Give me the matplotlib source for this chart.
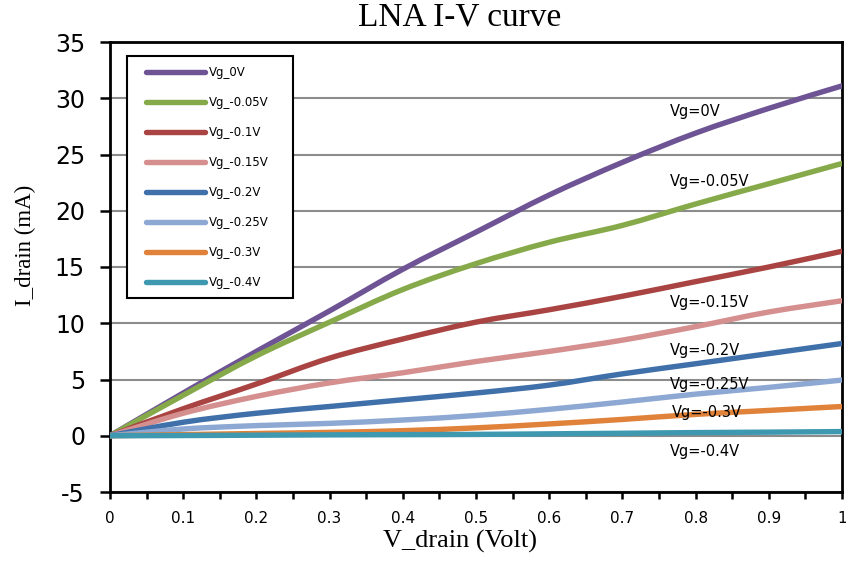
import matplotlib
matplotlib.use("Agg")
import matplotlib.pyplot as plt
from matplotlib.ticker import MultipleLocator
from matplotlib.path import Path
from matplotlib.patches import PathPatch, Rectangle
from matplotlib.lines import Line2D

plt.rcParams["axes.unicode_minus"] = False

# Drain voltage sweep (V)
v_drain = [0.0, 0.1, 0.2, 0.3, 0.4, 0.5, 0.6, 0.7, 0.8, 0.9, 1.0]

# Drain current (mA) for each gate bias
i_vg_0 = [0.0, 3.8, 7.5, 11.1, 14.8, 18.1, 21.4, 24.3, 26.9, 29.1, 31.1]
i_vg_m005 = [0.0, 3.6, 7.1, 10.1, 13.0, 15.3, 17.2, 18.7, 20.6, 22.4, 24.2]
i_vg_m010 = [0.0, 2.4, 4.6, 6.9, 8.6, 10.1, 11.2, 12.4, 13.7, 15.0, 16.4]
i_vg_m015 = [0.0, 2.0, 3.5, 4.7, 5.6, 6.6, 7.5, 8.5, 9.7, 11.0, 12.0]
i_vg_m020 = [0.0, 1.2, 2.0, 2.6, 3.2, 3.8, 4.5, 5.5, 6.4, 7.3, 8.2]
i_vg_m025 = [0.0, 0.6, 0.9, 1.1, 1.4, 1.8, 2.35, 3.0, 3.7, 4.3, 4.95]
i_vg_m030 = [0.0, 0.1, 0.2, 0.3, 0.45, 0.7, 1.05, 1.45, 1.9, 2.25, 2.6]
i_vg_m040 = [0.0, 0.02, 0.05, 0.08, 0.1, 0.12, 0.17, 0.22, 0.28, 0.32, 0.37]

series_labels = ["Vg_0V", "Vg_-0.05V", "Vg_-0.1V", "Vg_-0.15V",
                 "Vg_-0.2V", "Vg_-0.25V", "Vg_-0.3V", "Vg_-0.4V"]
series_values = [i_vg_0, i_vg_m005, i_vg_m010, i_vg_m015,
                 i_vg_m020, i_vg_m025, i_vg_m030, i_vg_m040]
series_colors = ["#6E5494", "#86A94A", "#A94442", "#D48F8E",
                 "#3F70AA", "#8DA8D2", "#E0823A", "#3E98B0"]

# In-plot curve labels: text, x, y
curve_notes = ["Vg=0V", "Vg=-0.05V", "Vg=-0.15V", "Vg=-0.2V",
               "Vg=-0.25V", "Vg=-0.3V", "Vg=-0.4V"]
note_x = [0.765, 0.765, 0.765, 0.765, 0.765, 0.768, 0.765]
note_y = [28.8, 22.6, 11.8, 7.6, 4.6, 2.1, -1.4]

sans = ["DejaVu Sans"]
serif = ["Liberation Serif", "DejaVu Serif"]


def smooth_path(xs, ys):
    """Smoothed line through the points (Catmull-Rom as cubic Beziers)."""
    pts = list(zip(xs, ys))
    n = len(pts)
    verts = [pts[0]]
    codes = [Path.MOVETO]
    for i in range(n - 1):
        p0 = pts[i - 1] if i > 0 else pts[i]
        p1 = pts[i]
        p2 = pts[i + 1]
        p3 = pts[i + 2] if i + 2 < n else pts[i + 1]
        c1 = (p1[0] + (p2[0] - p0[0]) / 6, p1[1] + (p2[1] - p0[1]) / 6)
        c2 = (p2[0] - (p3[0] - p1[0]) / 6, p2[1] - (p3[1] - p1[1]) / 6)
        verts += [c1, c2, p2]
        codes += [Path.CURVE4] * 3
    return Path(verts, codes)


fig = plt.figure(figsize=(8.46, 5.64), dpi=100)
ax = fig.add_axes([110 / 846, 1 - 492 / 564, 732 / 846, 450 / 564])

handles = []
for vals, lab, col in zip(series_values, series_labels, series_colors):
    patch = PathPatch(smooth_path(v_drain, vals), facecolor="none",
                      edgecolor=col, lw=3.9, capstyle="round",
                      joinstyle="round", zorder=3)
    ax.add_patch(patch)
    handles.append(Line2D([], [], color=col, lw=3.9,
                          solid_capstyle="round", label=lab))

ax.set_xlim(0, 1)
ax.set_ylim(-5, 35)
ax.yaxis.set_major_locator(MultipleLocator(5))
ax.xaxis.set_minor_locator(MultipleLocator(0.05))
ax.set_xticks([i / 10 for i in range(11)])
ax.set_xticklabels(["0", "0.1", "0.2", "0.3", "0.4", "0.5", "0.6", "0.7",
                    "0.8", "0.9", "1"])

ax.grid(axis="y", which="major", color="#8C8C8C", lw=1.5, zorder=1)
ax.set_axisbelow(True)

for side in ["left", "bottom", "top", "right"]:
    ax.spines[side].set_color("black")
    ax.spines[side].set_linewidth(2.0)

ax.tick_params(axis="y", which="major", direction="out", length=7, width=1.8,
               pad=11, labelsize=17)
ax.tick_params(axis="x", which="major", direction="out", length=5, width=1.8,
               pad=9, labelsize=11)
ax.tick_params(axis="x", which="minor", direction="out", length=5, width=1.8)
for t in ax.get_xticklabels() + ax.get_yticklabels():
    t.set_fontfamily(sans)

for txt, x, y in zip(curve_notes, note_x, note_y):
    ax.text(x, y, txt, fontsize=10.5, family=sans, ha="left", va="center",
            zorder=4)

# Legend box: white panel with a black frame, entries placed inside it
ax.add_patch(Rectangle((0.0232, 0.431), 0.2268, 0.5378,
                       transform=ax.transAxes, facecolor="white",
                       edgecolor="black", lw=1.5, zorder=5))
leg = ax.legend(handles=handles, loc="upper left",
                bbox_to_anchor=(0.049, 0.946), borderaxespad=0,
                frameon=False, prop={"family": sans, "size": 8.5},
                handlelength=5.0, handletextpad=0.35, labelspacing=1.44,
                borderpad=0)
leg.set_zorder(6)

fig.text(460 / 846, 1 - 17 / 564, "LNA I-V curve", family=serif, fontsize=24,
         ha="center", va="center")
fig.text(460 / 846, 1 - 541 / 564, "V_drain (Volt)", family=serif,
         fontsize=19, ha="center", va="center")
fig.text(25 / 846, 1 - 245 / 564, "I_drain (mA)", family=serif, fontsize=16.5,
         ha="center", va="center", rotation=90)

fig.savefig("out.png", dpi=100)
